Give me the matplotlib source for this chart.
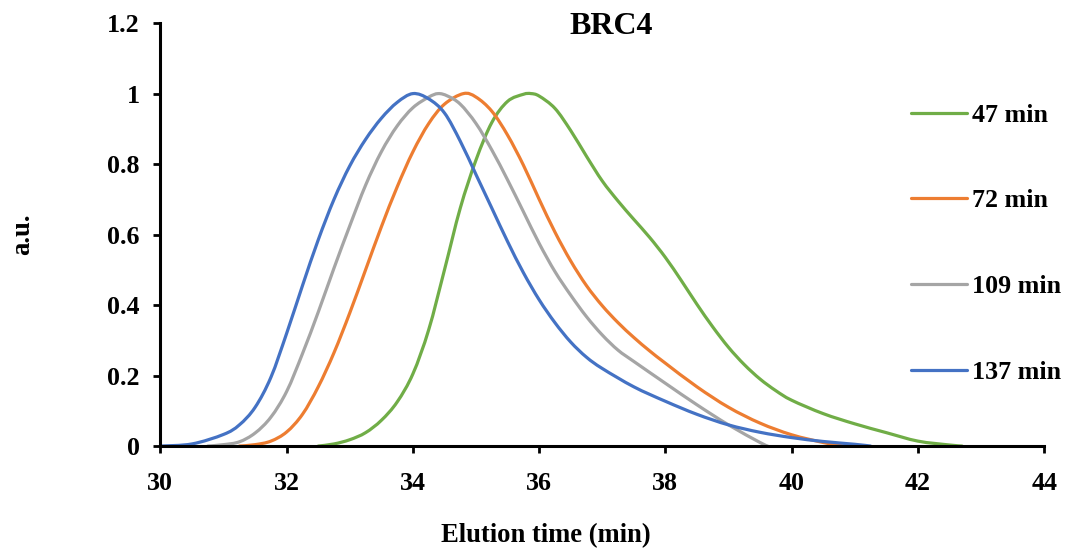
import numpy as np
import matplotlib
matplotlib.use("Agg")
import matplotlib.pyplot as plt
from matplotlib.path import Path
from matplotlib.patches import PathPatch
from matplotlib.lines import Line2D

# Normalised SEC traces of BRC4 at different reaction times
labels = ["47 min", "72 min", "109 min", "137 min"]
colors = ["#70AD47", "#ED7D31", "#A5A5A5", "#4472C4"]

t_47 = [32.5, 32.75, 33.0, 33.25, 33.5, 33.75, 34.0, 34.25, 34.5, 34.75, 35.0, 35.25,
        35.5, 35.75, 35.87, 36.0, 36.25, 36.5, 36.75, 37.0, 37.25, 37.5, 37.75, 38.0,
        38.25, 38.5, 38.75, 39.0, 39.25, 39.5, 39.75, 40.0, 40.5, 41.0, 41.5, 42.0,
        42.5, 42.7]
y_47 = [0.0, 0.006, 0.018, 0.038, 0.073, 0.125, 0.205, 0.33, 0.50, 0.675, 0.812, 0.918,
        0.978, 0.998, 1.0, 0.993, 0.958, 0.895, 0.822, 0.752, 0.695, 0.643, 0.592, 0.535,
        0.47, 0.402, 0.338, 0.28, 0.231, 0.19, 0.157, 0.13, 0.092, 0.063, 0.038, 0.014,
        0.003, 0.0]

t_72 = [31.25, 31.5, 31.75, 32.0, 32.25, 32.5, 32.75, 33.0, 33.25, 33.5, 33.75, 34.0,
        34.25, 34.5, 34.8, 35.0, 35.25, 35.5, 35.75, 36.0, 36.25, 36.5, 36.75, 37.0,
        37.25, 37.5, 37.75, 38.0, 38.5, 39.0, 39.5, 40.0, 40.5, 40.75, 40.85]
y_72 = [0.0, 0.004, 0.014, 0.04, 0.09, 0.168, 0.265, 0.378, 0.50, 0.622, 0.735, 0.835,
        0.915, 0.97, 1.0, 0.99, 0.95, 0.882, 0.797, 0.70, 0.607, 0.525, 0.455, 0.398,
        0.35, 0.308, 0.27, 0.235, 0.168, 0.11, 0.065, 0.032, 0.01, 0.002, 0.0]

t_109 = [30.75, 31.0, 31.25, 31.5, 31.75, 32.0, 32.25, 32.5, 32.75, 33.0, 33.25, 33.5,
         33.75, 34.0, 34.25, 34.4, 34.55, 34.75, 35.0, 35.25, 35.5, 35.75, 36.0, 36.25,
         36.5, 36.75, 37.0, 37.25, 37.5, 38.0, 38.5, 39.0, 39.5, 39.62]
y_109 = [0.0, 0.004, 0.012, 0.037, 0.082, 0.155, 0.262, 0.38, 0.505, 0.625, 0.74, 0.835,
         0.908, 0.96, 0.99, 1.0, 0.993, 0.97, 0.915, 0.84, 0.755, 0.665, 0.575, 0.495,
         0.428, 0.367, 0.315, 0.272, 0.24, 0.178, 0.117, 0.06, 0.01, 0.0]

t_137 = [30.0, 30.5, 31.0, 31.25, 31.5, 31.75, 32.0, 32.25, 32.5, 32.75, 33.0, 33.25,
         33.5, 33.75, 34.0, 34.25, 34.5, 34.75, 35.0, 35.25, 35.5, 35.75, 36.0, 36.25,
         36.5, 36.75, 37.0, 37.5, 38.0, 38.5, 39.0, 39.5, 40.0, 40.5, 41.0, 41.25]
y_137 = [0.0, 0.006, 0.033, 0.06, 0.11, 0.195, 0.32, 0.455, 0.585, 0.70, 0.795, 0.87,
         0.93, 0.975, 1.0, 0.985, 0.945, 0.865, 0.77, 0.675, 0.58, 0.492, 0.415, 0.35,
         0.295, 0.252, 0.22, 0.168, 0.127, 0.09, 0.06, 0.039, 0.024, 0.013, 0.005, 0.0]

series = [(t_47, y_47), (t_72, y_72), (t_109, y_109), (t_137, y_137)]

x_ticks = [30, 32, 34, 36, 38, 40, 42, 44]
y_ticks = [0, 0.2, 0.4, 0.6, 0.8, 1.0, 1.2]
y_tick_labels = ["0", "0.2", "0.4", "0.6", "0.8", "1", "1.2"]


def smooth_path(x, y):
    """Catmull-Rom style cubic Bezier through the points (spreadsheet 'smoothed line')."""
    p = np.column_stack([x, y]).astype(float)
    n = len(p)
    verts = [p[0]]
    codes = [Path.MOVETO]
    for i in range(n - 1):
        p0 = p[i - 1] if i > 0 else p[i]
        p1 = p[i]
        p2 = p[i + 1]
        p3 = p[i + 2] if i + 2 < n else p[i + 1]
        c1 = p1 + (p2 - p0) / 6.0
        c2 = p2 - (p3 - p1) / 6.0
        verts += [c1, c2, p2]
        codes += [Path.CURVE4] * 3
    return Path(verts, codes)


plt.rcParams["font.family"] = ["Liberation Serif", "DejaVu Serif"]
plt.rcParams["font.weight"] = "bold"

fig = plt.figure(figsize=(10.66, 5.5), dpi=100)
ax = fig.add_axes([0.1505, 0.189, 0.829, 0.769])

for (t, y), c in zip(series, colors):
    patch = PathPatch(smooth_path(t, y), facecolor="none", edgecolor=c,
                      linewidth=2.3, capstyle="round", joinstyle="round")
    ax.add_patch(patch)

ax.set_xlim(30, 44)
ax.set_ylim(0, 1.2)
ax.set_xticks(x_ticks)
ax.set_xticklabels([str(v) for v in x_ticks])
ax.set_yticks(y_ticks)
ax.set_yticklabels(y_tick_labels)

for s in ["top", "right"]:
    ax.spines[s].set_visible(False)
for s in ["left", "bottom"]:
    ax.spines[s].set_linewidth(2.2)
    ax.spines[s].set_color("black")

ax.tick_params(axis="both", direction="out", length=5, width=2.0, labelsize=18.7)
ax.tick_params(axis="x", pad=14)
ax.tick_params(axis="y", pad=10)
for lab in ax.get_xticklabels() + ax.get_yticklabels():
    lab.set_fontweight("bold")

ax.set_xlabel("Elution time (min)", fontsize=19.2, fontweight="bold")
ax.xaxis.set_label_coords(0.436, -0.183)
ax.set_ylabel("a.u.", fontsize=19.2, fontweight="bold", labelpad=52)

ax.text(0.51, 0.992, "BRC4", transform=ax.transAxes, ha="center", va="center",
        fontsize=23, fontweight="bold")

handles = [Line2D([], [], color=c, linewidth=2.3, solid_capstyle="round") for c in colors]
leg = ax.legend(handles, labels, loc="upper left", bbox_to_anchor=(0.849, 0.81),
                frameon=False, fontsize=18.7, handlelength=2.15, handletextpad=0.2,
                labelspacing=2.41, borderaxespad=0.0, borderpad=0.0)
for txt in leg.get_texts():
    txt.set_fontweight("bold")

fig.savefig("out.png", dpi=100)
